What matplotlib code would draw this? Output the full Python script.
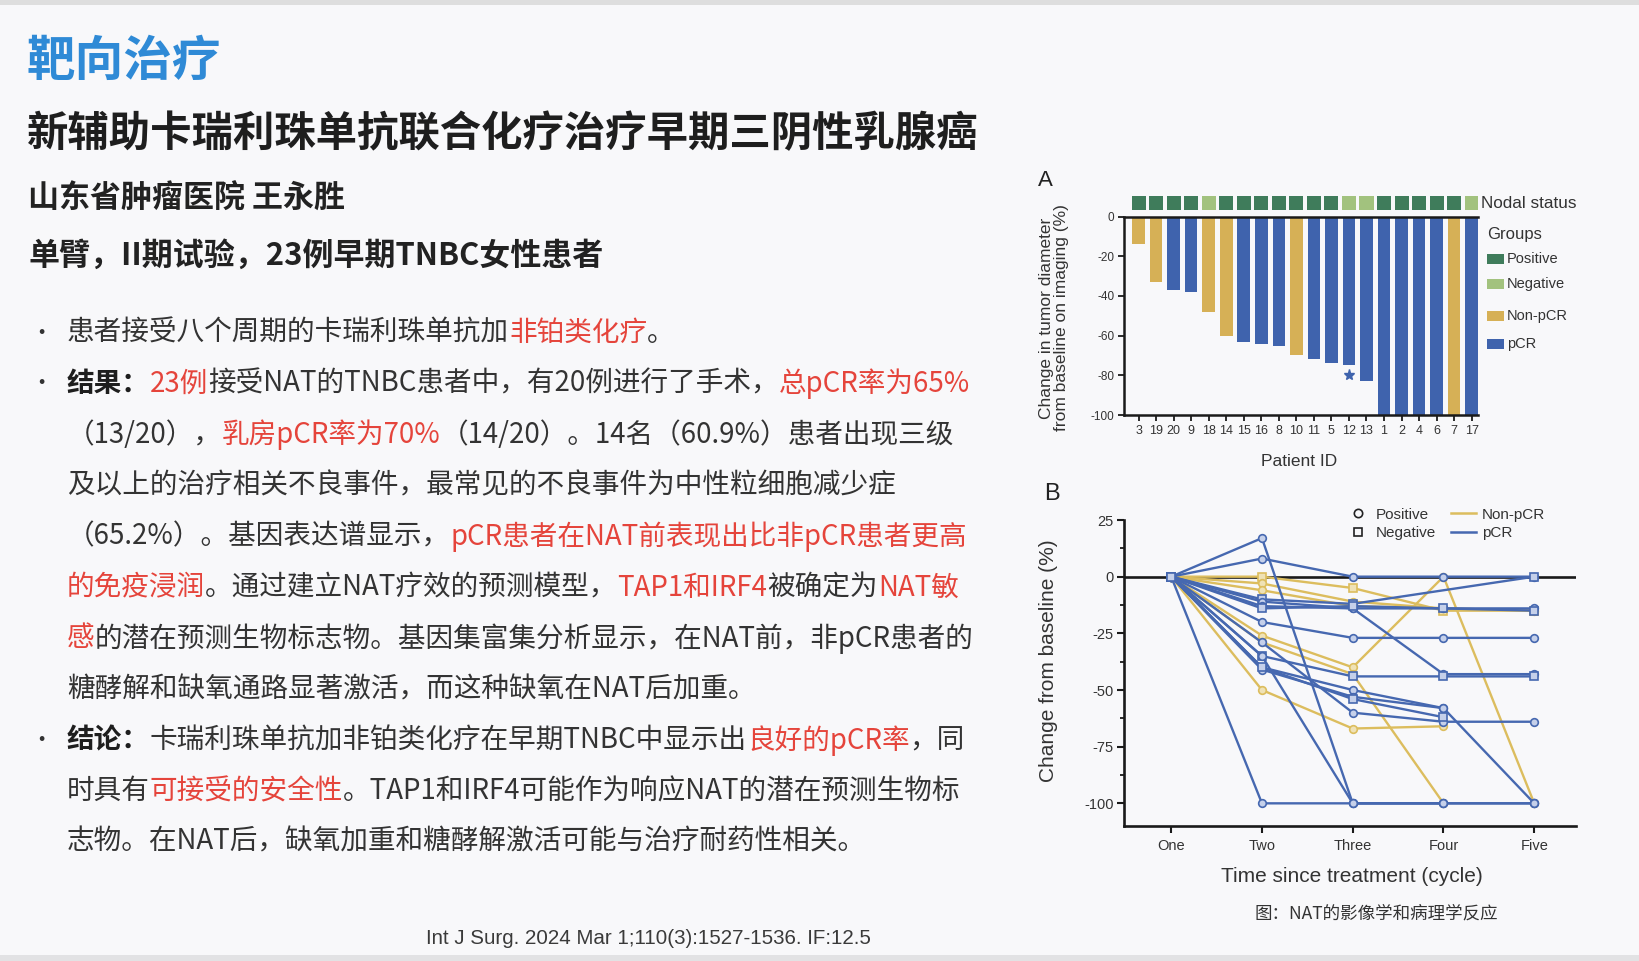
import numpy as np
import matplotlib.pyplot as plt
from matplotlib.lines import Line2D
from matplotlib.patches import Rectangle

W, H = 1640, 961
CJK = ['Noto Sans CJK SC', 'DejaVu Sans']
LAT = ['Liberation Sans', 'DejaVu Sans']

# ---- panel A: waterfall ----
patient_ids = ['3', '19', '20', '9', '18', '14', '15', '16', '8', '10',
               '11', '5', '12', '13', '1', '2', '4', '6', '7', '17']
tumor_change = [-14, -33, -37, -38, -48, -60, -63, -64, -65, -70,
                -72, -74, -75, -83, -100, -100, -100, -100, -100, -100]
bar_group = ['Non-pCR', 'Non-pCR', 'pCR', 'pCR', 'Non-pCR', 'Non-pCR', 'pCR', 'pCR', 'pCR', 'Non-pCR',
             'pCR', 'pCR', 'pCR', 'pCR', 'pCR', 'pCR', 'pCR', 'pCR', 'Non-pCR', 'pCR']
nodal_status = ['Positive', 'Positive', 'Positive', 'Positive', 'Negative', 'Positive', 'Positive',
                'Positive', 'Positive', 'Positive', 'Positive', 'Positive', 'Negative', 'Negative',
                'Positive', 'Positive', 'Positive', 'Positive', 'Positive', 'Negative']
star_patient = '12'
star_value = -80

# ---- panel B: spider plot ----
cycles = ['One', 'Two', 'Three', 'Four', 'Five']
trajectories = [
    [0, 0, -5, -15, -15],
    [0, -3, -11, -14, -15],
    [0, -26, -40, 0, -100],
    [0, -29, -43, -100, None],
    [0, -50, -67, -66, None],
    [0, -6, -13, -14, None],
    [0, -100, -100, -100, -100],
    [0, 17, -100, -100, -100],
    [0, 8, 0, 0, 0],
    [0, -10, -12, None, 0],
    [0, -11, -14, -14, -14],
    [0, -13, -14, -43, -43],
    [0, -14, -13, -14, -15],
    [0, -20, -27, -27, -27],
    [0, -35, -44, -44, -44],
    [0, -40, -50, -58, -100],
    [0, -41, -53, -58, None],
    [0, -29, -60, -64, -64],
    [0, -35, -100, -100, None],
    [0, -40, -54, -62, None],
]
traj_group = ['Non-pCR'] * 6 + ['pCR'] * 14
traj_nodal = ['Negative', 'Positive', 'Positive', 'Positive', 'Positive', 'Positive',
              'Positive', 'Positive', 'Positive', 'Negative', 'Positive', 'Positive',
              'Negative', 'Positive', 'Negative', 'Positive', 'Positive', 'Positive',
              'Positive', 'Negative']

GOLD = '#d6b056'
BLUE = '#3f63ad'
GOLD_LINE = '#dcbd5e'
BLUE_LINE = '#4668b0'
NODE_COL = {'Positive': '#3f7c5b', 'Negative': '#a2c27e'}
GROUP_COL = {'Non-pCR': GOLD, 'pCR': BLUE}
TXT = '#333333'
RED = '#e5443b'


def fx(x):
    return x / W


def fy(y):
    return 1 - y / H


fig = plt.figure(figsize=(16.4, 9.61), dpi=100, facecolor='#f8f8fa')
renderer = fig.canvas.get_renderer()

# slide frame lines
fig.add_artist(Rectangle((0, fy(5)), 1, 5 / H, transform=fig.transFigure, color='#dedede', lw=0))
fig.add_artist(Rectangle((0, 0), 1, 6 / H, transform=fig.transFigure, color='#e2e2e4', lw=0))

# ---- left-side text ----
fig.text(fx(27), fy(61), '靶向治疗', family=CJK, fontsize=35, fontweight='bold',
         color='#2f8ad6', va='center')
fig.text(fx(27), fy(134), '新辅助卡瑞利珠单抗联合化疗治疗早期三阴性乳腺癌', family=CJK,
         fontsize=29.8, fontweight='bold', color='#1e1e1e', va='center')
fig.text(fx(28), fy(199), '山东省肿瘤医院 王永胜', family=CJK, fontsize=22.3,
         fontweight='bold', color='#222222', va='center')
fig.text(fx(28), fy(256), '单臂，II期试验，23例早期TNBC女性患者', family=CJK, fontsize=22.3,
         fontweight='bold', color='#222222', va='center')


def rich_line(x, y, parts, size=19.9):
    for s, col, wt in parts:
        t = fig.text(fx(x), fy(y), s, family=CJK, fontsize=size, color=col,
                     fontweight=wt, va='center', ha='left')
        x = t.get_window_extent(renderer).x1


N, B = 'normal', 'bold'
body = [
    (True, [('患者接受八个周期的卡瑞利珠单抗加', TXT, N), ('非铂类化疗', RED, N), ('。', TXT, N)]),
    (True, [('结果：', '#1e1e1e', B), ('23例', RED, N),
            ('接受NAT的TNBC患者中，有20例进行了手术，', TXT, N), ('总pCR率为65%', RED, N)]),
    (False, [('（13/20），', TXT, N), ('乳房pCR率为70%', RED, N),
             ('（14/20）。14名（60.9%）患者出现三级', TXT, N)]),
    (False, [('及以上的治疗相关不良事件，最常见的不良事件为中性粒细胞减少症', TXT, N)]),
    (False, [('（65.2%）。基因表达谱显示，', TXT, N), ('pCR患者在NAT前表现出比非pCR患者更高', RED, N)]),
    (False, [('的免疫浸润', RED, N), ('。通过建立NAT疗效的预测模型，', TXT, N), ('TAP1和IRF4', RED, N),
             ('被确定为', TXT, N), ('NAT敏', RED, N)]),
    (False, [('感', RED, N), ('的潜在预测生物标志物。基因集富集分析显示，在NAT前，非pCR患者的', TXT, N)]),
    (False, [('糖酵解和缺氧通路显著激活，而这种缺氧在NAT后加重。', TXT, N)]),
    (True, [('结论：', '#1e1e1e', B), ('卡瑞利珠单抗加非铂类化疗在早期TNBC中显示出', TXT, N),
            ('良好的pCR率', RED, N), ('，同', TXT, N)]),
    (False, [('时具有', TXT, N), ('可接受的安全性', RED, N),
             ('。TAP1和IRF4可能作为响应NAT的潜在预测生物标', TXT, N)]),
    (False, [('志物。在NAT后，缺氧加重和糖酵解激活可能与治疗耐药性相关。', TXT, N)]),
]
y0, dy = 333, 50.9
for i, (bullet, parts) in enumerate(body):
    y = y0 + i * dy
    if bullet:
        fig.text(fx(30), fy(y), '•', family=CJK, fontsize=16, color=TXT, va='center')
    rich_line(67, y, parts)

fig.text(fx(648), fy(938), 'Int J Surg. 2024 Mar 1;110(3):1527-1536. IF:12.5', family=LAT,
         fontsize=14.8, color='#3a3a3a', ha='center', va='center')

# ---- panel A ----
axA = fig.add_axes([fx(1124), fy(415), (1478 - 1124) / W, (415 - 216.5) / H])
xpos = np.arange(len(patient_ids))
axA.bar(xpos, tumor_change, width=0.72, color=[GROUP_COL[g] for g in bar_group],
        align='center', zorder=2)
axA.set_xlim(-0.83, len(patient_ids) - 0.64)
axA.set_ylim(-100, 0)
axA.set_facecolor('none')
for s in ['left', 'top', 'bottom']:
    axA.spines[s].set_linewidth(1.8)
    axA.spines[s].set_color('#1a1a1a')
axA.spines['right'].set_visible(False)
axA.set_yticks([0, -20, -40, -60, -80, -100])
axA.set_yticklabels(['0', '-20', '-40', '-60', '-80', '-100'])
axA.set_xticks(xpos)
axA.set_xticklabels(patient_ids)
axA.tick_params(axis='both', direction='out', length=4, width=1.3, color='#1a1a1a',
                labelsize=8.5, labelcolor='#333333', pad=3)
axA.tick_params(axis='x', labelsize=9)
for lab in axA.get_xticklabels() + axA.get_yticklabels():
    lab.set_family(LAT)
si = patient_ids.index(star_patient)
axA.plot([xpos[si]], [star_value], marker='*', color=BLUE, markersize=8, zorder=3)

axN = fig.add_axes([fx(1124), fy(210), (1478 - 1124) / W, 14 / H])
axN.bar(xpos, [1] * len(xpos), width=0.8, bottom=0,
        color=[NODE_COL[n] for n in nodal_status])
axN.set_xlim(axA.get_xlim())
axN.set_ylim(0, 1)
axN.axis('off')

fig.text(fx(1045), fy(180), 'A', family=LAT, fontsize=16, color='#222222', va='center', ha='center')
fig.text(fx(1054), fy(318), 'Change in tumor diameter\nfrom baseline on imaging (%)', family=LAT,
         fontsize=12.5, color='#333333', rotation=90, ha='center', va='center', linespacing=1.0)
fig.text(fx(1299), fy(461), 'Patient ID', family=LAT, fontsize=12.5, color='#333333',
         ha='center', va='center')
fig.text(fx(1481), fy(203), 'Nodal status', family=LAT, fontsize=12.3, color='#333333', va='center')
fig.text(fx(1487), fy(235), 'Groups', family=LAT, fontsize=12, color='#333333', va='center')
legA = [('Positive', NODE_COL['Positive'], 259), ('Negative', NODE_COL['Negative'], 284),
        ('Non-pCR', GOLD, 316), ('pCR', BLUE, 344)]
for name, col, yy in legA:
    fig.add_artist(Rectangle((fx(1487), fy(yy + 5)), 17 / W, 10 / H, transform=fig.transFigure,
                             color=col, lw=0))
    fig.text(fx(1507), fy(yy), name, family=LAT, fontsize=10.5, color='#333333', va='center')

# ---- panel B ----
axB = fig.add_axes([fx(1124), fy(826), (1576 - 1124) / W, (826 - 520) / H])
axB.set_facecolor('none')
axB.set_xlim(-0.52, 4.46)
axB.set_ylim(-110, 25)
axB.axhline(0, color='#1a1a1a', lw=1.9, zorder=1)
xs = np.arange(len(cycles))
for vals, grp, nod in zip(trajectories, traj_group, traj_nodal):
    v = np.array([np.nan if a is None else a for a in vals], dtype=float)
    ok = np.isfinite(v)
    col = GOLD_LINE if grp == 'Non-pCR' else BLUE_LINE
    face = '#efe2b6' if grp == 'Non-pCR' else '#c5d0ea'
    axB.plot(xs[ok], v[ok], color=col, lw=1.7, marker='o' if nod == 'Positive' else 's',
             markersize=5.5, markerfacecolor=face, markeredgecolor=col, markeredgewidth=1.2,
             zorder=3 if grp == 'pCR' else 2)
for s in ['left', 'bottom']:
    axB.spines[s].set_linewidth(1.9)
    axB.spines[s].set_color('#1a1a1a')
axB.spines['top'].set_visible(False)
axB.spines['right'].set_visible(False)
axB.set_yticks([25, 0, -25, -50, -75, -100])
axB.set_yticklabels(['25', '0', '-25', '-50', '-75', '-100'])
axB.set_yticks([12.5, -12.5, -37.5, -62.5, -87.5], minor=True)
axB.set_xticks(xs)
axB.set_xticklabels(cycles)
axB.tick_params(axis='both', which='major', direction='out', length=5, width=1.5,
                color='#1a1a1a', labelsize=10.5, labelcolor='#333333', pad=4)
axB.tick_params(axis='y', which='major', pad=2.5)
axB.tick_params(axis='y', which='minor', direction='out', length=3, width=1.3, color='#1a1a1a')
for lab in axB.get_xticklabels() + axB.get_yticklabels():
    lab.set_family(LAT)

handles = [
    Line2D([], [], ls='none', marker='o', markerfacecolor='none', markeredgecolor='#222222',
           markersize=6, markeredgewidth=1.2, label='Positive'),
    Line2D([], [], ls='none', marker='s', markerfacecolor='none', markeredgecolor='#222222',
           markersize=6, markeredgewidth=1.2, label='Negative'),
    Line2D([], [], color=GOLD_LINE, lw=1.8, label='Non-pCR'),
    Line2D([], [], color=BLUE_LINE, lw=1.8, label='pCR'),
]
axB.legend(handles=handles, ncol=2, loc='upper right', frameon=False,
           bbox_to_anchor=(fx(1556), fy(497)), bbox_transform=fig.transFigure,
           prop={'family': LAT, 'size': 11}, handlelength=1.6, handletextpad=0.4,
           columnspacing=1.0, labelspacing=0.3, labelcolor='#333333', borderpad=0.2)

fig.text(fx(1052), fy(494), 'B', family=LAT, fontsize=17, color='#222222', va='center', ha='center')
fig.text(fx(1049), fy(661), 'Change from baseline (%)', family=LAT, fontsize=15,
         color='#333333', rotation=90, ha='center', va='center')
fig.text(fx(1352), fy(876), 'Time since treatment (cycle)', family=LAT, fontsize=15,
         color='#333333', ha='center', va='center')
fig.text(fx(1376), fy(913), '图：NAT的影像学和病理学反应', family=CJK, fontsize=12.6,
         color='#333333', ha='center', va='center')

fig.savefig('out.png', dpi=100, facecolor=fig.get_facecolor())
